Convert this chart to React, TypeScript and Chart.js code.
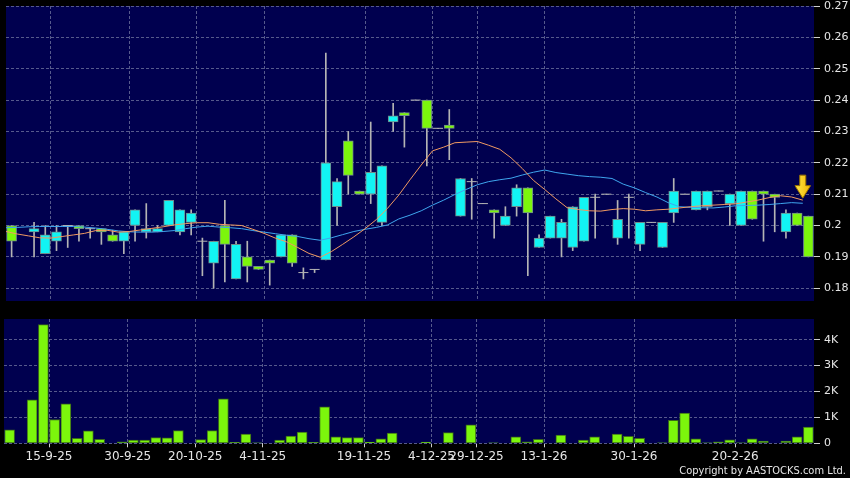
import React, { useEffect, useRef } from 'react';
import { Chart, registerables } from 'chart.js';

Chart.register(...registerables);

// ---- data (one slot per trading session, null = no candle) ----
const opens: (number | null)[] = [
  0.200, null, 0.198, 0.191, 0.195, 0.200, 0.200, 0.199, 0.199, 0.197,
  0.195, 0.200, 0.198, 0.198, 0.200, 0.198, 0.201, 0.195, 0.188, 0.200,
  0.183, 0.190, 0.187, 0.189, 0.190, 0.197, 0.185, 0.186, 0.189, 0.206,
  0.227, 0.211, 0.210, 0.201, 0.233, 0.236, 0.240, 0.240, 0.231, 0.232,
  0.203, 0.214, 0.207, 0.205, 0.200, 0.206, 0.212, 0.193, 0.196, 0.196,
  0.193, 0.195, 0.209, 0.210, 0.196, 0.209, 0.194, 0.201, 0.193, 0.204,
  0.210, 0.205, 0.206, 0.211, 0.207, 0.200, 0.211, 0.211, 0.210, 0.198,
  0.204, 0.203,
];
const highs: (number | null)[] = [
  0.200, null, 0.201, 0.200, 0.200, 0.200, 0.200, 0.199, 0.199, 0.1985,
  0.198, 0.205, 0.207, 0.200, 0.208, 0.205, 0.205, 0.196, 0.195, 0.208,
  0.195, 0.195, 0.187, 0.189, 0.197, 0.197, 0.1865, 0.186, 0.255, 0.215,
  0.230, 0.211, 0.233, 0.219, 0.239, 0.236, 0.240, 0.240, 0.231, 0.237,
  0.215, 0.215, 0.207, 0.205, 0.206, 0.213, 0.212, 0.197, 0.203, 0.202,
  0.206, 0.209, 0.210, 0.210, 0.208, 0.210, 0.201, 0.201, 0.201, 0.215,
  0.210, 0.211, 0.211, 0.211, 0.210, 0.211, 0.211, 0.211, 0.210, 0.205,
  0.204, 0.203,
];
const lows: (number | null)[] = [
  0.190, null, 0.190, 0.191, 0.192, 0.193, 0.195, 0.196, 0.194, 0.195,
  0.191, 0.195, 0.196, 0.198, 0.200, 0.197, 0.197, 0.184, 0.180, 0.182,
  0.183, 0.182, 0.186, 0.181, 0.190, 0.187, 0.183, 0.185, 0.189, 0.200,
  0.210, 0.210, 0.207, 0.200, 0.230, 0.225, 0.240, 0.219, 0.231, 0.221,
  0.203, 0.202, 0.207, 0.196, 0.200, 0.203, 0.184, 0.193, 0.196, 0.190,
  0.192, 0.195, 0.196, 0.210, 0.194, 0.196, 0.192, 0.201, 0.193, 0.201,
  0.210, 0.205, 0.205, 0.211, 0.200, 0.200, 0.202, 0.195, 0.198, 0.196,
  0.200, 0.190,
];
const closes: (number | null)[] = [
  0.195, null, 0.199, 0.197, 0.198, 0.200, 0.199, 0.199, 0.198, 0.195,
  0.198, 0.205, 0.199, 0.199, 0.208, 0.205, 0.204, 0.195, 0.195, 0.194,
  0.194, 0.187, 0.186, 0.188, 0.197, 0.188, 0.185, 0.186, 0.220, 0.214,
  0.216, 0.210, 0.217, 0.219, 0.235, 0.235, 0.240, 0.231, 0.231, 0.231,
  0.215, 0.214, 0.207, 0.204, 0.203, 0.212, 0.204, 0.196, 0.203, 0.201,
  0.206, 0.209, 0.209, 0.210, 0.202, 0.209, 0.201, 0.201, 0.201, 0.211,
  0.210, 0.211, 0.211, 0.211, 0.210, 0.211, 0.202, 0.210, 0.209, 0.204,
  0.200, 0.190,
];
// volume in thousands of shares
const volumesK: number[] = [
  0.52, 0, 1.68, 4.58, 0.92, 1.52, 0.19, 0.48, 0.15, 0,
  0.06, 0.12, 0.12, 0.22, 0.21, 0.49, 0, 0.14, 0.49, 1.72,
  0.04, 0.36, 0.01, 0, 0.12, 0.28, 0.43, 0.04, 1.41, 0.25,
  0.22, 0.22, 0.05, 0.17, 0.39, 0, 0, 0.05, 0, 0.41,
  0, 0.71, 0, 0.01, 0, 0.25, 0.06, 0.15, 0, 0.32,
  0, 0.12, 0.25, 0, 0.36, 0.27, 0.19, 0, 0.02, 0.89,
  1.17, 0.17, 0.01, 0.06, 0.13, 0.01, 0.17, 0.09, 0, 0.09,
  0.25, 0.63,
];
const ma10: number[] = [
  0.1981, 0.1973, 0.1967, 0.1961, 0.1960, 0.1965, 0.1970, 0.1975, 0.1984, 0.1985,
  0.1979, 0.1981, 0.1986, 0.1991, 0.1996, 0.2002, 0.2006, 0.2009, 0.2009, 0.2004,
  0.2002, 0.2000, 0.1988, 0.1975, 0.1960, 0.1948, 0.1930, 0.1911, 0.1899, 0.1917,
  0.1940, 0.1964, 0.1990, 0.2019, 0.2055, 0.2097, 0.2146, 0.2193, 0.2238, 0.2250,
  0.2264, 0.2266, 0.2268, 0.2256, 0.2243, 0.2216, 0.2182, 0.2144, 0.2115, 0.2085,
  0.2057, 0.2051, 0.2047, 0.2046, 0.2051, 0.2054, 0.2052, 0.2047, 0.2050, 0.2052,
  0.2056, 0.2060, 0.2063, 0.2065, 0.2067, 0.2069, 0.2075, 0.2081, 0.2089, 0.2095,
  0.2091, 0.2081,
];
const ma20: number[] = [
  0.1993, 0.1994, 0.1996, 0.1997, 0.1997, 0.1997, 0.1997, 0.1995, 0.1992, 0.1988,
  0.1983, 0.1980, 0.1979, 0.1979, 0.1981, 0.1984, 0.1990, 0.1995, 0.1998, 0.1995,
  0.1993, 0.1990, 0.1984, 0.1979, 0.1974, 0.1969, 0.1965, 0.1958, 0.1953, 0.1961,
  0.1971, 0.1981, 0.1988, 0.1994, 0.2002, 0.2021, 0.2033, 0.2047, 0.2065, 0.2081,
  0.2099, 0.2115, 0.2130, 0.2140, 0.2146, 0.2151, 0.2161, 0.2170, 0.2177, 0.2169,
  0.2164, 0.2159, 0.2156, 0.2154, 0.2150, 0.2132, 0.2120, 0.2105, 0.2091, 0.2073,
  0.2060, 0.2058, 0.2057, 0.2056, 0.2059, 0.2063, 0.2064, 0.2065, 0.2067, 0.2070,
  0.2073, 0.2071,
];
const dateLabels: string[] = [
  '15-9-25', '30-9-25', '20-10-25', '4-11-25', '19-11-25',
  '4-12-25', '29-12-25', '13-1-26', '30-1-26', '20-2-26',
];
// slot index of the first session for each date label
const dateSlot: number[] = [4, 11, 17, 23, 32, 38, 42, 48, 56, 65];
const priceTicks: number[] = [0.18, 0.19, 0.2, 0.21, 0.22, 0.23, 0.24, 0.25, 0.26, 0.27];
const volTicks: number[] = [0, 1, 2, 3, 4];
const volTickLabels: string[] = ['0', '1K', '2K', '3K', '4K'];

// ---- styles ----
const NAVY = '#00004f';
const GRID = '#565a8c';
const TEXT = '#e6e6e6';
const UP = '#12f4f4';
const DOWN = '#7cf60c';
const EDGE = '#6f8a8a';
const WICK = '#b4b4b4';
const FONT = "'DejaVu Sans', 'Liberation Sans', sans-serif";

const plotBg = {
  id: 'plotBg',
  beforeDraw(chart: any) {
    const { ctx, chartArea: a } = chart;
    ctx.save();
    ctx.fillStyle = NAVY;
    ctx.fillRect(a.left, a.top, a.right - a.left, a.bottom - a.top);
    ctx.restore();
  },
};

const arrowMark = {
  id: 'arrowMark',
  afterDatasetsDraw(chart: any) {
    const meta = chart.getDatasetMeta(0);
    const pt = meta.data[meta.data.length - 1];
    if (!pt) return;
    const ctx = chart.ctx;
    const x = pt.x;
    const tip = pt.y - 2;
    ctx.save();
    const g = ctx.createLinearGradient(x - 8, 0, x + 8, 0);
    g.addColorStop(0, '#ffe94a');
    g.addColorStop(1, '#f2b400');
    ctx.fillStyle = g;
    ctx.strokeStyle = '#9c7400';
    ctx.lineWidth = 1;
    ctx.beginPath();
    ctx.moveTo(x - 3, tip - 23);
    ctx.lineTo(x + 3, tip - 23);
    ctx.lineTo(x + 3, tip - 12.5);
    ctx.lineTo(x + 7.8, tip - 12.5);
    ctx.lineTo(x, tip);
    ctx.lineTo(x - 7.8, tip - 12.5);
    ctx.lineTo(x - 3, tip - 12.5);
    ctx.closePath();
    ctx.fill();
    ctx.stroke();
    ctx.restore();
  },
};

export default function App() {
  const priceRef = useRef<HTMLCanvasElement>(null);
  const volRef = useRef<HTMLCanvasElement>(null);

  useEffect(() => {
    document.body.style.margin = '0';
    document.body.style.background = '#000';
    Chart.defaults.font.family = FONT;

    const bodies: any[] = [];
    const bodyColors: string[] = [];
    const wicks: any[] = [];
    const dojis: any[] = [];
    opens.forEach((o, i) => {
      const c = closes[i];
      const h = highs[i];
      const l = lows[i];
      if (o === null || c === null || h === null || l === null) return;
      wicks.push({ x: i, y: [l, h] });
      if (o === c) {
        dojis.push({ x: i, y: o });
      } else {
        bodies.push({ x: i, y: [Math.min(o, c), Math.max(o, c)] });
        bodyColors.push(c > o ? UP : DOWN);
      }
    });

    const xGridScale = (showLabels: boolean, height: number) => ({
      type: 'linear' as const,
      min: -0.5,
      max: opens.length - 0.5,
      offset: false,
      afterBuildTicks: (s: any) => {
        s.ticks = dateSlot.map((v) => ({ value: v - 0.5 }));
      },
      afterFit: (s: any) => {
        s.height = height;
      },
      ticks: {
        display: showLabels,
        autoSkip: false,
        maxRotation: 0,
        minRotation: 0,
        color: TEXT,
        padding: 2,
        font: { size: 12, family: FONT },
        callback: (_v: any, idx: number) => dateLabels[idx],
      },
      grid: {
        offset: false,
        color: GRID,
        drawTicks: showLabels,
        tickLength: 4,
        tickColor: '#cfcfcf',
      },
      border: { display: false, dash: [3, 2] },
    });

    const yRightCommon = {
      type: 'linear' as const,
      position: 'right' as const,
      afterFit: (s: any) => {
        s.width = 36;
        s.paddingTop = 0;
        s.paddingBottom = 0;
      },
      grid: { color: GRID, tickLength: 6, tickColor: '#cfcfcf' },
      border: { display: false, dash: [3, 2] },
    };

    const priceChart = new Chart(priceRef.current!, {
      type: 'bar',
      data: {
        datasets: [
          {
            type: 'line',
            data: ma10.map((v, i) => ({ x: i - 0.5, y: v })),
            borderColor: '#f09a62',
            borderWidth: 1,
            pointRadius: 0,
            order: 0,
          } as any,
          {
            type: 'line',
            data: ma20.map((v, i) => ({ x: i - 0.5, y: v })),
            borderColor: '#3fa6ee',
            borderWidth: 1,
            pointRadius: 0,
            order: 0,
          } as any,
          {
            type: 'scatter',
            data: dojis,
            pointStyle: 'line',
            pointRadius: 5,
            borderColor: WICK,
            borderWidth: 1,
            order: 1,
          } as any,
          {
            type: 'bar',
            data: bodies,
            backgroundColor: bodyColors,
            borderColor: EDGE,
            borderWidth: 1,
            borderSkipped: false,
            barThickness: 10,
            grouped: false,
            order: 1,
          } as any,
          {
            type: 'bar',
            data: wicks,
            backgroundColor: WICK,
            barThickness: 1,
            grouped: false,
            order: 2,
          } as any,
        ],
      },
      options: {
        responsive: false,
        animation: false,
        devicePixelRatio: 1,
        layout: { padding: { top: 6, left: 4, right: 0, bottom: 0 } },
        plugins: { legend: { display: false }, tooltip: { enabled: false } },
        scales: {
          x: xGridScale(false, 0) as any,
          y: {
            ...yRightCommon,
            min: 0.27 - 301 / 3200,
            max: 0.27,
            afterBuildTicks: (s: any) => {
              s.ticks = priceTicks.map((v) => ({ value: v }));
            },
            ticks: {
              color: TEXT,
              padding: 4,
              font: { size: 11, family: FONT },
              callback: (v: any) => String(Number(Number(v).toFixed(2))),
            },
          } as any,
        },
      },
      plugins: [plotBg, arrowMark],
    });

    const volChart = new Chart(volRef.current!, {
      type: 'bar',
      data: {
        datasets: [
          {
            data: volumesK.map((v, i) => ({ x: i, y: v })),
            backgroundColor: DOWN,
            borderColor: '#3c6a1a',
            borderWidth: 1,
            borderSkipped: false,
            barThickness: 10,
          } as any,
        ],
      },
      options: {
        responsive: false,
        animation: false,
        devicePixelRatio: 1,
        layout: { padding: { top: 7, left: 4, right: 0, bottom: 0 } },
        plugins: { legend: { display: false }, tooltip: { enabled: false } },
        scales: {
          x: xGridScale(true, 34.7) as any,
          y: {
            ...yRightCommon,
            min: 0,
            max: 4.8,
            afterBuildTicks: (s: any) => {
              s.ticks = volTicks.map((v) => ({ value: v }));
            },
            ticks: {
              color: TEXT,
              padding: 4,
              font: { size: 11, family: FONT },
              callback: (_v: any, idx: number) => volTickLabels[idx],
            },
          } as any,
        },
      },
      plugins: [plotBg],
    });

    return () => {
      priceChart.destroy();
      volChart.destroy();
    };
  }, []);

  return (
    <div
      style={{
        position: 'fixed',
        left: 0,
        top: 0,
        width: 850,
        height: 478,
        background: '#000',
        overflow: 'hidden',
      }}
    >
      <canvas
        ref={priceRef}
        width={850}
        height={307}
        style={{ position: 'absolute', left: 0, top: 0, width: 850, height: 307 }}
      />
      <canvas
        ref={volRef}
        width={850}
        height={166}
        style={{ position: 'absolute', left: 0, top: 312, width: 850, height: 166 }}
      />
      <div
        style={{
          position: 'absolute',
          right: 4,
          top: 465,
          fontFamily: "'DejaVu Sans Condensed', 'Liberation Sans Narrow', 'Liberation Sans', sans-serif",
          fontSize: 11,
          lineHeight: '11px',
          color: TEXT,
          whiteSpace: 'nowrap',
        }}
      >
        Copyright by AASTOCKS.com Ltd.
      </div>
    </div>
  );
}
